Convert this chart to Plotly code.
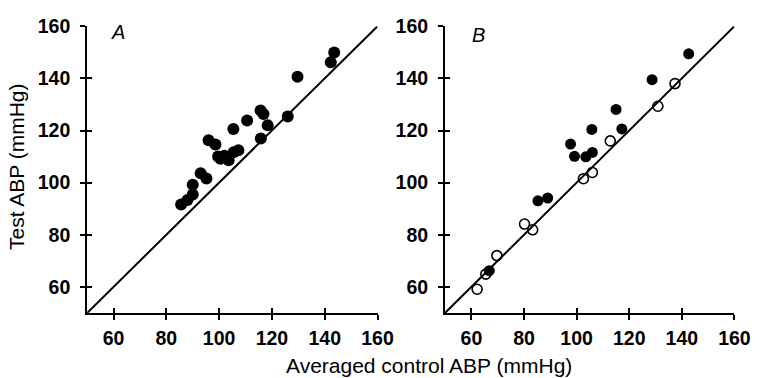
import plotly.graph_objects as go

# Panel A (all filled)
a_x = [85.6, 88.0, 90.0, 90.0, 93.0, 95.2, 96.0, 98.6, 99.6, 100.5, 102.0, 103.6,
       105.5, 107.3, 105.4, 110.6, 115.7, 116.8, 118.4, 115.8, 126.0, 129.7, 142.3, 143.6]
a_y = [91.6, 93.3, 95.4, 99.2, 103.6, 101.6, 116.3, 114.6, 110.0, 109.2, 110.3, 108.6,
       111.7, 112.4, 120.6, 123.8, 127.7, 126.3, 122.0, 116.9, 125.4, 140.6, 146.2, 149.9]

# Panel B filled
bf_x = [142.6, 128.7, 115.0, 117.2, 105.8, 97.7, 99.2, 103.5, 106.0, 85.3, 89.0, 66.8]
bf_y = [149.4, 139.5, 128.1, 120.6, 120.4, 114.8, 110.1, 109.9, 111.6, 93.0, 94.1, 66.2]

# Panel B open
bo_x = [137.4, 130.9, 112.8, 106.0, 102.6, 80.2, 83.3, 69.7, 65.5, 62.2]
bo_y = [138.0, 129.3, 116.0, 103.9, 101.5, 84.1, 81.9, 72.0, 64.9, 59.1]

line_xy = [50, 160]
tick_vals = [60, 80, 100, 120, 140, 160]
tick_text = ["<b>60</b>", "<b>80</b>", "<b>100</b>", "<b>120</b>", "<b>140</b>", "<b>160</b>"]

W, H = 771, 378
FONT = "Liberation Sans, Arial, sans-serif"

fig = go.Figure()

# identity lines (on overlay axes, which share the same ranges)
fig.add_trace(go.Scatter(x=line_xy, y=line_xy, mode="lines", line=dict(color="black", width=2),
                         xaxis="x3", yaxis="y3", hoverinfo="skip", showlegend=False))
fig.add_trace(go.Scatter(x=line_xy, y=line_xy, mode="lines", line=dict(color="black", width=2),
                         xaxis="x4", yaxis="y4", hoverinfo="skip", showlegend=False))

fig.add_trace(go.Scatter(x=a_x, y=a_y, mode="markers", xaxis="x", yaxis="y",
                         marker=dict(size=12, color="black", line=dict(width=0)), showlegend=False))
fig.add_trace(go.Scatter(x=bo_x, y=bo_y, mode="markers", xaxis="x2", yaxis="y2",
                         marker=dict(size=10, color="white", line=dict(width=1.6, color="black")),
                         showlegend=False))
fig.add_trace(go.Scatter(x=bf_x, y=bf_y, mode="markers", xaxis="x2", yaxis="y2",
                         marker=dict(size=11, color="black", line=dict(width=0)), showlegend=False))

dA = [89 / W, 385.5 / W]
dB = [454.5 / W, 750 / W]
dY = [(H - 311) / H, (H - 15.7) / H]

def ax(domain, anchor, ticks, labels, overlay=None, standoff=None):
    d = dict(domain=domain, anchor=anchor, range=[50, 160], tickmode="array",
             tickvals=tick_vals, ticktext=tick_text, ticks=ticks, ticklen=5, tickwidth=1.8,
             tickcolor="black", showline=True, linecolor="black", linewidth=2,
             showgrid=False, zeroline=False, showticklabels=labels,
             tickfont=dict(family=FONT, size=19.5, color="black"), fixedrange=True)
    if overlay:
        d["overlaying"] = overlay
    if standoff is not None:
        d["ticklabelstandoff"] = standoff
    return d

fig.update_layout(
    width=W, height=H, margin=dict(l=0, r=0, t=0, b=0),
    paper_bgcolor="white", plot_bgcolor="rgba(0,0,0,0)",
    xaxis=ax(dA, "y", "outside", True, standoff=2),
    yaxis=ax(dY, "x", "outside", True, standoff=6),
    xaxis2=ax(dB, "y2", "outside", True, standoff=2),
    yaxis2=ax(dY, "x2", "outside", True, standoff=6),
    xaxis3=ax(dA, "y3", "inside", False, "x"),
    yaxis3=ax(dY, "x3", "inside", False, "y"),
    xaxis4=ax(dB, "y4", "inside", False, "x2"),
    yaxis4=ax(dY, "x4", "inside", False, "y2"),
    annotations=[
        dict(text="Averaged control ABP (mmHg)", x=438.5 / W, y=1 - 365 / H, xref="paper", yref="paper",
             showarrow=False, font=dict(family=FONT, size=21, color="black"),
             xanchor="center", yanchor="middle"),
        dict(text="Test ABP (mmHg)", x=17 / W, y=1 - 161 / H, xref="paper", yref="paper",
             showarrow=False, textangle=-90, font=dict(family=FONT, size=21, color="black"),
             xanchor="center", yanchor="middle"),
        dict(text="<i>A</i>", x=121 / W, y=1 - 22 / H, xref="paper", yref="paper", showarrow=False,
             font=dict(family=FONT, size=20, color="black"), xanchor="center", yanchor="middle"),
        dict(text="<i>B</i>", x=489 / W, y=1 - 25 / H, xref="paper", yref="paper", showarrow=False,
             font=dict(family=FONT, size=20, color="black"), xanchor="center", yanchor="middle"),
    ],
)

fig.write_html("out.html")
